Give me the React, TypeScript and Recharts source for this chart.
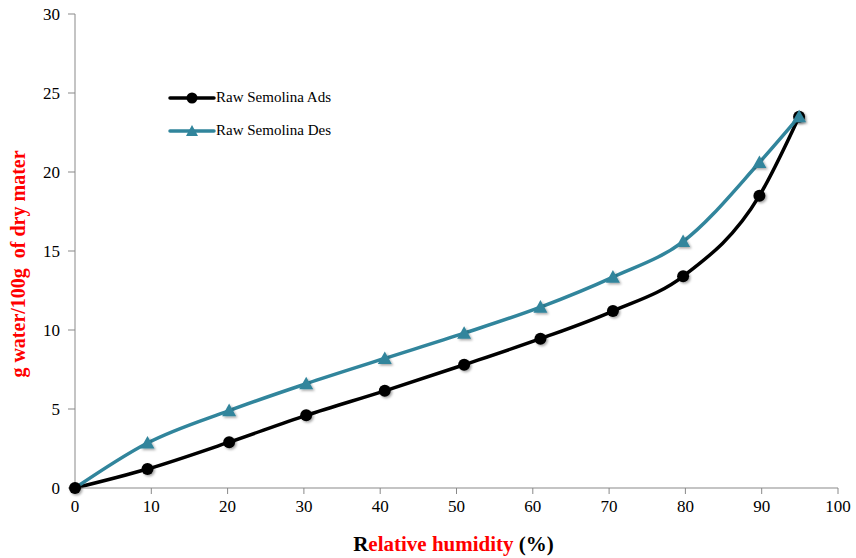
import React from 'react';
import { LineChart, Line, XAxis, YAxis, Label } from 'recharts';

const humidity = [0, 9.5, 20.2, 30.3, 40.6, 51.0, 61.0, 70.5, 79.7, 89.7, 94.9];
const adsWater = [0, 1.2, 2.9, 4.6, 6.15, 7.8, 9.45, 11.2, 13.4, 18.5, 23.5];
const desWater = [0, 2.85, 4.9, 6.6, 8.2, 9.8, 11.45, 13.35, 15.6, 20.6, 23.5];

const xTicks = [0, 10, 20, 30, 40, 50, 60, 70, 80, 90, 100];
const yTicks = [0, 5, 10, 15, 20, 25, 30];

const seriesNames = ['Raw Semolina Ads', 'Raw Semolina Des'];

const BLACK = '#000000';
const TEAL = '#31859C';
const AXIS = '#898989';
const FONT = 'Liberation Serif, Times New Roman, serif';

const data = humidity.map((h, i) => ({ rh: h, ads: adsWater[i], des: desWater[i] }));

const CircleDot = (props: any) => {
  const { cx, cy } = props;
  if (cx == null || cy == null) return null;
  return <circle cx={cx} cy={cy} r={6} fill={BLACK} filter="url(#mshadow)" />;
};

const TriangleDot = (props: any) => {
  const { cx, cy, index } = props;
  if (cx == null || cy == null || index === 0) return null;
  const s = 7;
  return (
    <polygon
      points={`${cx},${cy - s} ${cx + s},${cy + s * 0.8} ${cx - s},${cy + s * 0.8}`}
      fill={TEAL}
      filter="url(#mshadow)"
    />
  );
};

// legend drawn as an overlay so it does not take space from the plot
const LegendBox = () => (
  <div style={{ position: 'absolute', left: 168, top: 81, fontFamily: FONT, fontSize: 15, color: '#000' }}>
    {seriesNames.map((name, i) => (
      <div key={name} style={{ display: 'flex', alignItems: 'center', height: 33 }}>
        <svg width={48} height={16}>
          <line x1={2} y1={8} x2={46} y2={8} stroke={i === 0 ? BLACK : TEAL} strokeWidth={3.5} strokeLinecap="round" />
          {i === 0 ? (
            <circle cx={24} cy={8} r={5.5} fill={BLACK} />
          ) : (
            <polygon points="24,2 30,13 18,13" fill={TEAL} />
          )}
        </svg>
        <span>{name}</span>
      </div>
    ))}
  </div>
);

const XLabel = (props: any) => {
  const { viewBox } = props;
  const cx = viewBox.x + viewBox.width / 2 - 3;
  const y = viewBox.y + 63;
  return (
    <text x={cx} y={y} textAnchor="middle" style={{ fontFamily: FONT }} fontSize={21} fontWeight="bold">
      <tspan fill="#000">R</tspan>
      <tspan fill="#FF0000">elative humidity</tspan>
      <tspan fill="#000"> (%)</tspan>
    </text>
  );
};

const YLabel = () => (
  <text
    x={18}
    y={264}
    transform="rotate(-90 18 264)"
    textAnchor="middle"
    dominantBaseline="central"
    fontSize={20}
    fontWeight="bold"
    fill="#FF0000"
    xmlSpace="preserve"
    style={{ whiteSpace: 'pre', fontFamily: FONT }}
  >
    {'g water/100g  of dry mater'}
  </text>
);

export default function App() {
  return (
    <div style={{ position: 'absolute', left: 0, top: 0, background: '#fff', fontFamily: FONT }}>
      <LineChart
        width={856}
        height={558}
        data={data}
        margin={{ top: 14, right: 18, bottom: 0, left: 0 }}
        style={{ fontFamily: FONT }}
      >
        <defs>
          <filter id="mshadow" x="-50%" y="-50%" width="200%" height="200%">
            <feDropShadow dx={1.5} dy={1.5} stdDeviation={1.2} floodColor="#000" floodOpacity={0.35} />
          </filter>
        </defs>
        <XAxis
          dataKey="rh"
          type="number"
          domain={[0, 100]}
          ticks={xTicks}
          interval={0}
          height={70}
          stroke={AXIS}
          tickSize={6}
          tickLine={{ stroke: AXIS }}
          tick={{ fill: '#000', fontFamily: FONT, fontSize: 17 }}
          tickMargin={6}
        >
          <Label content={<XLabel />} />
        </XAxis>
        <YAxis
          type="number"
          domain={[0, 30]}
          ticks={yTicks}
          interval={0}
          width={75}
          stroke={AXIS}
          tickSize={7}
          tickLine={{ stroke: AXIS }}
          tick={{ fill: '#000', fontFamily: FONT, fontSize: 17 }}
          tickMargin={8}
        />
        <Line
          name={seriesNames[0]}
          type="monotone"
          dataKey="ads"
          stroke={BLACK}
          strokeWidth={3.5}
          dot={<CircleDot />}
          activeDot={false}
          isAnimationActive={false}
        />
        <Line
          name={seriesNames[1]}
          type="monotone"
          dataKey="des"
          stroke={TEAL}
          strokeWidth={3.5}
          dot={<TriangleDot />}
          activeDot={false}
          isAnimationActive={false}
        />
      </LineChart>
      <LegendBox />
      <svg width={856} height={558} style={{ position: 'absolute', left: 0, top: 0, pointerEvents: 'none' }}>
        <YLabel />
      </svg>
    </div>
  );
}
